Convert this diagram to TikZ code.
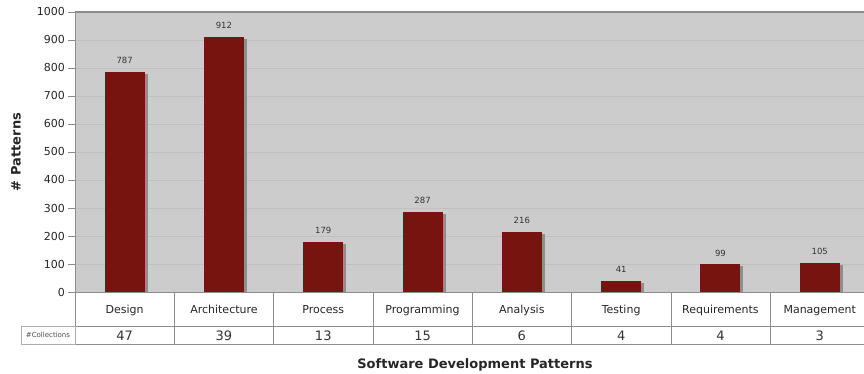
\documentclass[tikz,border=0pt]{standalone}
\usepackage{fontspec}
\setmainfont{DejaVu Sans}
\usetikzlibrary{positioning}

\definecolor{barred}{HTML}{761410}
\definecolor{plotgray}{HTML}{CCCCCC}
\definecolor{gridgray}{HTML}{BFBFBF}
\definecolor{framegray}{HTML}{8C8C8C}
\definecolor{shadowgray}{HTML}{8E8E8E}

\tikzset{
  ticklabel/.style={font=\fontsize{11}{12}\selectfont, text=black!85, anchor=east, inner sep=0pt},
  valuelabel/.style={font=\fontsize{8.5}{9}\selectfont, text=black!80, text height=6pt, text depth=0pt},
  catlabel/.style={font=\fontsize{11}{12}\selectfont, text=black!85, text height=8pt, text depth=2.5pt},
  countlabel/.style={font=\fontsize{13}{14}\selectfont, text=black!80, text height=9.5pt, text depth=0pt},
  axistitle/.style={font=\bfseries\fontsize{13}{14}\selectfont, text=black!85}
}

\begin{document}
\begin{tikzpicture}[x=1pt,y=1pt]
  \useasboundingbox (0,0) rectangle (864,374);

  % Plot area and grid
  \fill[plotgray] (75,82) rectangle (864,362);
  \foreach \v in {100,200,...,900}
    \draw[gridgray] (75,{82+0.28*\v}) -- (864,{82+0.28*\v});
  \draw[framegray, line width=1.2pt] (75,362) -- (864,362);

  % Y axis ticks
  \foreach \v in {0,100,...,1000} {
    \draw[framegray] (68,{82+0.28*\v}) -- (75,{82+0.28*\v});
    \node[ticklabel] (tick\v) at (65,{82+0.28*\v}) {\v};
  }

  % Bars and table columns
  \foreach \name/\val/\num [count=\i from 0] in {Design/787/47, Architecture/912/39,
      Process/179/13, Programming/287/15, Analysis/216/6, Testing/41/4,
      Requirements/99/4, Management/105/3} {
    \pgfmathsetmacro\cx{75+99.3*(\i+0.5)}
    \pgfmathsetmacro\ytop{82+0.28*\val}
    \fill[shadowgray] (\cx-17,82) rectangle (\cx+23,\ytop-2);
    \fill[barred] (\cx-20,82) rectangle (\cx+20,\ytop);
    \node[valuelabel] (val\i) at (\cx,\ytop+11) {\val};
    \node[catlabel] (cat\i) at (\cx,63) {\name};
    \node[countlabel] (count\i) at (\cx,38) {\num};
    \draw[framegray] (\cx+49.65,82) -- (\cx+49.65,30);
  }

  % Table frame
  \draw[framegray] (75,82) -- (864,82);
  \draw[framegray] (75,362) -- (75,30);
  \draw[framegray] (75,48) -- (864,48);
  \draw[framegray] (75,30) -- (864,30);
  \draw[framegray!70] (21,30) rectangle (75,48);
  \node[font=\fontsize{7}{8}\selectfont, text=black!70, inner sep=0pt] (collections) at (48,39) {\#Collections};

  % Axis titles
  \node[axistitle, rotate=90] (ytitle) at (16,222) {\# Patterns};
  \node[axistitle] (xtitle) at (475,9) {Software Development Patterns};
\end{tikzpicture}
\end{document}
